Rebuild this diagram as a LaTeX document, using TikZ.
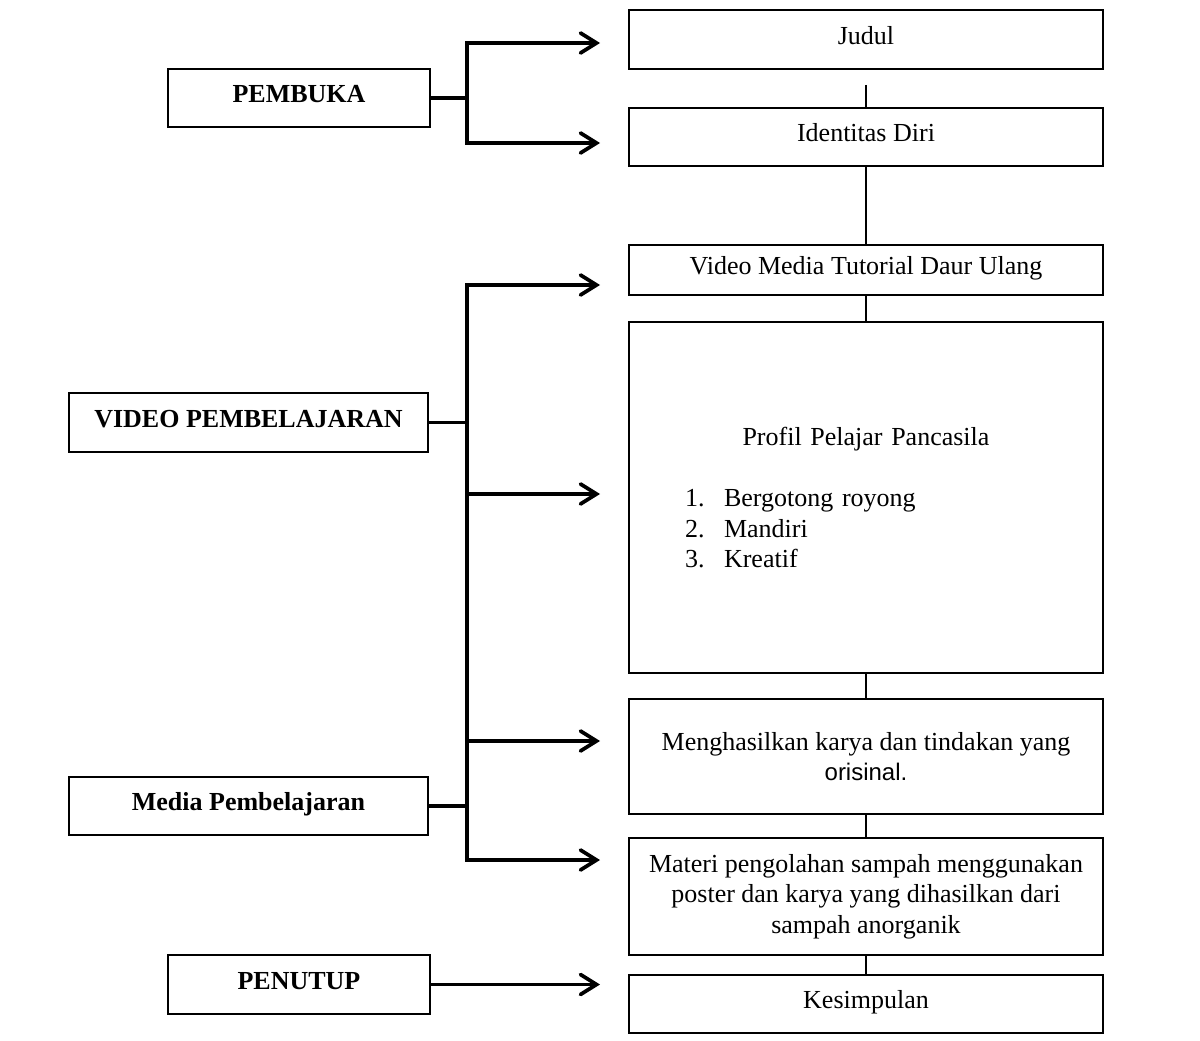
\documentclass[tikz,border=0pt]{standalone}
\usepackage{fontspec}
\setmainfont{Liberation Serif}
\newfontfamily\arialfont{Liberation Sans}
\usetikzlibrary{arrows.meta}
\begin{document}
\begin{tikzpicture}[x=0.75pt,y=-0.75pt,
  every node/.style={font=\fontsize{19.5}{23}\selectfont},
  rbox/.style={draw, line width=1.5pt, minimum width=355.5pt, inner sep=2pt, align=center},
  lbox/.style={draw, line width=1.8pt, inner sep=2pt, font=\fontsize{19.5}{23}\selectfont\bfseries},
  oneline/.style={text height=13.3pt, text depth=6.2pt},
  conn/.style={line width=1.6pt},
  thk/.style={line width=2.8pt},
  arr/.style={line width=2.8pt, line join=miter, -{Straight Barb[length=12pt,width=15pt,line cap=round]}},
]
\fill[white] (0,0) rectangle (1200,1041);
\useasboundingbox (0,0) rectangle (1200,1041);

% right column
\node[rbox, oneline, minimum height=44.25pt] (judul) at (866,39.5) {Judul};
\node[rbox, oneline, minimum height=43.5pt] (ident) at (866,137) {Identitas Diri};
\node[rbox, oneline, minimum height=37.5pt] (video) at (866,270) {Video Media Tutorial Daur Ulang};
\node[rbox, minimum height=263.25pt, text width=340pt] (profil) at (866,497.5)
  {Profil Pelajar Pancasila\\[23pt]
   \makebox[340pt][l]{\hspace{34.3pt}\makebox[29.25pt][l]{1.}Bergotong royong}\\
   \makebox[340pt][l]{\hspace{34.3pt}\makebox[29.25pt][l]{2.}Mandiri}\\
   \makebox[340pt][l]{\hspace{34.3pt}\makebox[29.25pt][l]{3.}Kreatif}};
\node[rbox, minimum height=86.25pt] (hasil) at (866,756.5)
  {Menghasilkan karya dan tindakan yang\\{\arialfont\fontsize{18}{23}\selectfont orisinal.}};
\node[rbox, minimum height=87.75pt] (materi) at (866,896.5)
  {Materi pengolahan sampah menggunakan\\poster dan karya yang dihasilkan dari\\sampah anorganik};
\node[rbox, oneline, minimum height=43.5pt] (kesim) at (866,1004) {Kesimpulan};

% left column
\node[lbox, oneline, minimum width=196.5pt, minimum height=43.5pt] (pembuka) at (299,98) {PEMBUKA};
\node[lbox, oneline, minimum width=269.25pt, minimum height=44.25pt] (vp) at (248.5,422.5) {VIDEO PEMBELAJARAN};
\node[lbox, oneline, minimum width=269.25pt, minimum height=43.5pt] (mp) at (248.5,806) {Media Pembelajaran};
\node[lbox, oneline, minimum width=196.5pt, minimum height=44.25pt] (penutup) at (299,984.5) {PENUTUP};

% vertical chain on the right
\draw[conn] ([yshift=-11.25pt]judul.south) -- (ident.north);
\draw[conn] (ident.south) -- (video.north);
\draw[conn] (video.south) -- (profil.north);
\draw[conn] (profil.south) -- (hasil.north);
\draw[conn] (hasil.south) -- (materi.north);
\draw[conn] (materi.south) -- (kesim.north);

% bracket coordinates
\coordinate (bx) at (467,0);
\coordinate (a1) at (600,43);
\coordinate (a2) at (600,143);
\coordinate (a3) at (600,285);
\coordinate (a4) at (600,494);
\coordinate (a5) at (600,741);
\coordinate (a6) at (600,860);
\coordinate (a7) at (600,984.5);
\coordinate (j1) at (pembuka.east -| bx);
\coordinate (j2) at (vp.east -| bx);
\coordinate (j3) at (mp.east -| bx);

% PEMBUKA bracket
\draw[thk] (pembuka.east) -- (j1);
\draw[arr] (j1) |- (a1);
\draw[arr] (j1) |- (a2);

% VIDEO / Media bracket
\draw[thk] (vp.east) -- (j2);
\draw[thk] (mp.east) -- (j3);
\draw[thk] (j2) -- (j3);
\draw[arr] (j2) |- (a3);
\draw[arr] (j3) |- (a6);
\draw[arr] (a4 -| bx) -- (a4);
\draw[arr] (a5 -| bx) -- (a5);

% PENUTUP
\draw[arr] (penutup.east) -- (a7);
\end{tikzpicture}
\end{document}
